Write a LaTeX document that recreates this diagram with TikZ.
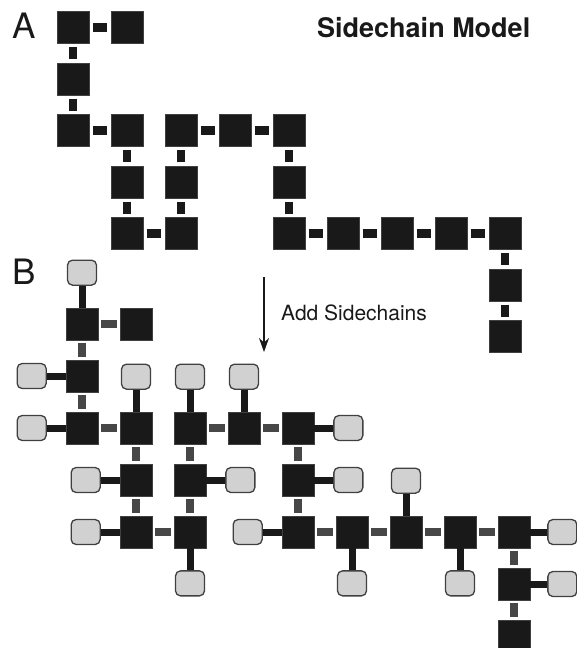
\documentclass[tikz,border=0pt]{standalone}
\usepackage{fontspec}
\setmainfont{TeX Gyre Heros}
\usepackage{tikz}
\usetikzlibrary{positioning}
\usetikzlibrary{arrows.meta}
\definecolor{sidegray}{gray}{0.82}
\definecolor{inkblack}{gray}{0.1}

\tikzset{
    residue/.style={draw=black!75, fill=inkblack, minimum size=32pt, inner sep=0pt},
    bond/.style={line width=8.5pt, draw=inkblack, shorten <=3.5pt, shorten >=3.5pt},
    bbond/.style={bond, line width=8pt, draw=black!72, shorten <=3pt, shorten >=3pt},
    side/.style={draw=black!75, line width=1.3pt, fill=sidegray, rounded corners=5pt, minimum width=29pt, minimum height=25pt, inner sep=0pt},
    sidebond/.style={line width=7pt, draw=inkblack},
}

\begin{document}
\begin{tikzpicture}[x=1pt, y=-1pt]
    %
    \useasboundingbox (0,0) rectangle (577,648);
    %
    \def\chain{1/0, 0/0, 0/1, 0/2, 1/2, 1/3, 1/4, 2/4, 2/3, 2/2, 3/2, 4/2, 4/3, 4/4, 5/4, 6/4, 7/4, 8/4, 8/5, 8/6}
    %
    % A: backbone only
    \begin{scope}[shift={(73,27.5)}, x=54pt, y=-51.5pt]
        \foreach \i/\j [count=\n] in \chain
            \node[residue] (a\n) at (\i,\j) {};
    \end{scope}
    \foreach \n [count=\m from 2] in {1,...,19}
        \draw[bond] (a\n) -- (a\m);
    %
    % B: same backbone, with sidechains
    \begin{scope}[shift={(82,324)}, x=54pt, y=-52pt]
        \foreach \i/\j [count=\n] in \chain
            \node[residue] (b\n) at (\i,\j) {};
    \end{scope}
    \foreach \n [count=\m from 2] in {1,...,19}
        \draw[bbond] (b\n) -- (b\m);
    %
    \node[side, above=22pt of b2] (s2) {};
    \node[side, left=19pt of b3] (s3) {};
    \node[side, left=19pt of b4] (s4) {};
    \node[side, above=22pt of b5] (s5) {};
    \node[side, left=19pt of b6] (s6) {};
    \node[side, left=19pt of b7] (s7) {};
    \node[side, below=22pt of b8] (s8) {};
    \node[side, right=19pt of b9] (s9) {};
    \node[side, above=22pt of b10] (s10) {};
    \node[side, above=22pt of b11] (s11) {};
    \node[side, right=19pt of b12] (s12) {};
    \node[side, right=19pt of b13] (s13) {};
    \node[side, left=19pt of b14] (s14) {};
    \node[side, below=22pt of b15] (s15) {};
    \node[side, above=22pt of b16] (s16) {};
    \node[side, below=22pt of b17] (s17) {};
    \node[side, right=17pt of b18] (s18) {};
    \node[side, right=17pt of b19] (s19) {};
    \foreach \n in {2,...,19}
        \draw[sidebond] (b\n) -- (s\n);
    %
    % labels
    \node[anchor=base west, inner sep=0pt, text=inkblack, font=\fontsize{35}{40}\selectfont] (labelA) at (12,38) {A};
    \node[anchor=base west, inner sep=0pt, text=inkblack, font=\fontsize{35}{40}\selectfont] (labelB) at (12,284) {B};
    \node[anchor=base west, inner sep=0pt, text=inkblack, font=\fontsize{27}{32}\selectfont\bfseries] (title) at (317,37) {Sidechain Model};
    %
    \coordinate (arrowtop) at (264,277);
    \coordinate (arrowbot) at (264,352);
    \draw[-{Stealth[length=14pt, width=10pt]}, line width=1.3pt, draw=inkblack, fill=inkblack] (arrowtop) -- (arrowbot);
    \node[anchor=base west, inner sep=0pt, text=inkblack, font=\fontsize{21}{25}\selectfont] (addlabel) at (281,320) {Add Sidechains};
\end{tikzpicture}
\end{document}
